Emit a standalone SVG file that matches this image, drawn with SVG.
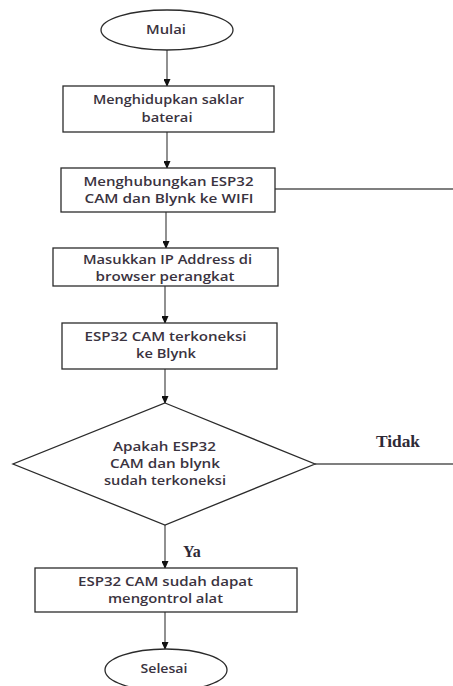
<svg xmlns="http://www.w3.org/2000/svg" width="453" height="686" viewBox="0 0 453 686">
<style>
.shape{fill:#fff;stroke:#2b2b2b;stroke-width:1.3}
.conn{fill:none;stroke:#555;stroke-width:1.3}
.t{font-family:"Open Sans","Liberation Sans",sans-serif;font-size:12px;font-weight:600;fill:#3a3340;text-anchor:middle}
.s{font-family:"Liberation Serif","Times New Roman",serif;font-size:16px;font-weight:bold;fill:#2e2a36}
</style>
<defs>
<marker id="ah" markerWidth="8" markerHeight="7" refX="7" refY="3.5" orient="auto" markerUnits="userSpaceOnUse">
<path d="M0,0 L8,3.5 L0,7 Z" fill="#111"/>
</marker>
</defs>
<rect width="453" height="686" fill="#fff"/>
<g id="connectors">
<line class="conn" x1="167" y1="50" x2="167" y2="86" marker-end="url(#ah)"/>
<line class="conn" x1="167" y1="132" x2="167" y2="168" marker-end="url(#ah)"/>
<line class="conn" x1="275" y1="189" x2="453" y2="189"/>
<line class="conn" x1="166" y1="212" x2="166" y2="248" marker-end="url(#ah)"/>
<line class="conn" x1="165" y1="286" x2="165" y2="323" marker-end="url(#ah)"/>
<line class="conn" x1="165" y1="369" x2="165" y2="403" marker-end="url(#ah)"/>
<line class="conn" x1="315" y1="464" x2="453" y2="464"/>
<line class="conn" x1="165" y1="525" x2="165" y2="568" marker-end="url(#ah)"/>
<line class="conn" x1="165" y1="612" x2="165" y2="649" marker-end="url(#ah)"/>
<text class="s" x="376" y="447" textLength="44" lengthAdjust="spacingAndGlyphs">Tidak</text>
<text class="s" x="183" y="557">Ya</text>
</g>
<g id="mulai">
<ellipse class="shape" cx="167" cy="30" rx="66" ry="20"/>
<text class="t" x="166" y="34" textLength="40" lengthAdjust="spacingAndGlyphs">Mulai</text>
</g>
<g id="saklar">
<rect class="shape" x="63" y="86" width="211" height="46"/>
<text class="t" x="168.5" y="104" textLength="151" lengthAdjust="spacingAndGlyphs">Menghidupkan saklar</text>
<text class="t" x="167" y="122" textLength="51" lengthAdjust="spacingAndGlyphs">baterai</text>
</g>
<g id="wifi">
<rect class="shape" x="61" y="168" width="214" height="44"/>
<text class="t" x="168.5" y="186" textLength="170" lengthAdjust="spacingAndGlyphs">Menghubungkan ESP32</text>
<text class="t" x="169" y="203" textLength="169" lengthAdjust="spacingAndGlyphs">CAM dan Blynk ke WIFI</text>
</g>
<g id="ip">
<rect class="shape" x="53" y="248" width="225" height="38"/>
<text class="t" x="167.5" y="264" textLength="169" lengthAdjust="spacingAndGlyphs">Masukkan IP Address di</text>
<text class="t" x="165" y="281" textLength="139" lengthAdjust="spacingAndGlyphs">browser perangkat</text>
</g>
<g id="terkoneksi">
<rect class="shape" x="62" y="323" width="215" height="46"/>
<text class="t" x="165.5" y="341" textLength="162" lengthAdjust="spacingAndGlyphs">ESP32 CAM terkoneksi</text>
<text class="t" x="166" y="358" textLength="60" lengthAdjust="spacingAndGlyphs">ke Blynk</text>
</g>
<g id="decision">
<polygon class="shape" points="165,403 315,464 165,525 13,464"/>
<text class="t" x="164.5" y="451" textLength="103" lengthAdjust="spacingAndGlyphs">Apakah ESP32</text>
<text class="t" x="165" y="468" textLength="110" lengthAdjust="spacingAndGlyphs">CAM dan blynk</text>
<text class="t" x="165" y="485" textLength="122" lengthAdjust="spacingAndGlyphs">sudah terkoneksi</text>
</g>
<g id="kontrol">
<rect class="shape" x="35" y="568" width="262" height="44"/>
<text class="t" x="165.5" y="586" textLength="175" lengthAdjust="spacingAndGlyphs">ESP32 CAM sudah dapat</text>
<text class="t" x="165.5" y="603" textLength="115" lengthAdjust="spacingAndGlyphs">mengontrol alat</text>
</g>
<g id="selesai">
<ellipse class="shape" cx="166" cy="670" rx="61" ry="21"/>
<text class="t" x="164" y="673" textLength="47" lengthAdjust="spacingAndGlyphs">Selesai</text>
</g>
</svg>
